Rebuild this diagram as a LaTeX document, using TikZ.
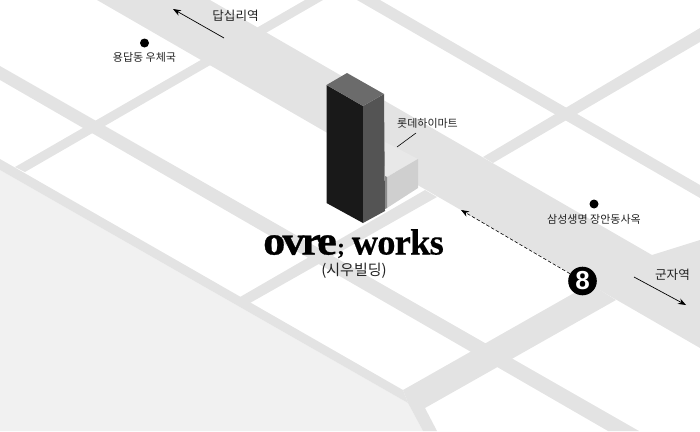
\documentclass[tikz,border=0pt]{standalone}
\usepackage{xcolor}
\usepackage{fontspec}
\setmainfont{Liberation Sans}
\newfontfamily\krfont{Noto Sans CJK KR}
\newfontfamily\logofont[LetterSpace=-7.5, FakeStretch=1.08, FakeBold=0.8]{Liberation Serif Bold}
\newfontfamily\logowide[LetterSpace=-2.2, FakeBold=0.3]{Liberation Serif Bold}
\usetikzlibrary{arrows.meta, positioning}
\definecolor{roadgrey}{HTML}{E3E3E3}
\definecolor{parkgrey}{HTML}{F1F1F1}
\definecolor{inkgrey}{HTML}{222222}

\begin{document}
\begin{tikzpicture}[
    x=1pt, y=-1pt,
    road/.style={fill=roadgrey},
    place/.style={font=\krfont\fontsize{11}{13}\selectfont, text=inkgrey, inner sep=0pt},
    station/.style={font=\krfont\fontsize{12.6}{15}\selectfont, text=inkgrey, inner sep=0pt},
    pin/.style={circle, fill=black, minimum size=9pt, inner sep=0pt},
    pointer/.style={-{Stealth[length=8pt, width=6pt]}, black, line width=0.7pt}
]
\useasboundingbox (0,0) rectangle (700,431);

% Park
\fill[parkgrey] (0,170) -- (408,403) -- (423,431) -- (0,431) -- cycle;

% Main road
\fill[road] (97,0) -- (700,348) -- (700,240) -- (652,255) -- (210,0) -- cycle;

% Thin roads
\fill[road] (0,159) -- (403,390) -- (408,403) -- (0,170) -- cycle;
\fill[road] (0,66) -- (639,431) -- (608,431) -- (0,80) -- cycle;
\fill[road] (15,167) -- (305,0) -- (323,0) -- (25,172) -- cycle;
\fill[road] (357,0) -- (380,0) -- (700,185) -- (700,198) -- cycle;
\fill[road] (483,157) -- (700,28) -- (700,42) -- (493,163) -- cycle;
\fill[road] (240,297) -- (425,190) -- (437,197) -- (250,303) -- cycle;

% Wide road to the station
\fill[road] (403,390) -- (590,284) -- (616,300) -- (425,408) -- (437,431) -- (423,431) -- (408,403) -- cycle;

% Tower
\fill[black!90] (326.5,85) -- (363,106) -- (363,223) -- (326.5,203) -- cycle;
\fill[black!67] (363,106) -- (384,94) -- (385,211) -- (363,223) -- cycle;
\fill[black!58] (326.5,85) -- (347,73) -- (384,94) -- (363,106) -- cycle;

% Mart
\fill[black!9] (385,142) -- (418,159) -- (387,177) -- (385,176) -- cycle;
\fill[black!19] (387,177) -- (418,159) -- (418,188) -- (387,208) -- cycle;
\fill[black!45] (385,176) -- (387,177) -- (387,208) -- (385,209) -- cycle;

% Places
\node[pin] (postdot) at (144.5,43) {};
\node[place, below=4.5pt of postdot] (post) {용답동 우체국};
\node[pin] (samsungdot) at (594,204) {};
\node[place, below=5pt of samsungdot] (samsung) {삼성생명 장안동사옥};
\node[place] (mart) at (427.5,123) {롯데하이마트};
\coordinate (martfoot) at (397,147);
\coordinate (martlead) at (416,133);
\draw[black, line width=0.6pt] (martfoot) -- (martlead);

% Stations
\node[station] (dapsimni) at (235.5,16) {답십리역};
\node[station] (gunja) at (672.5,275) {군자역};
\coordinate (westfrom) at (224,38);
\coordinate (westto) at (173,9);
\coordinate (eastfrom) at (634,277);
\coordinate (eastto) at (686,305);
\draw[pointer] (westfrom) -- (westto);
\draw[pointer] (eastfrom) -- (eastto);

% Exit 8
\node[circle, fill=black, minimum size=28.6pt, inner sep=0pt, text=white, font=\fontspec{Liberation Sans Bold}\fontsize{26}{26}\selectfont] (exiteight) at (582.5,281) {8};
\coordinate (entrance) at (461,210);
\draw[pointer, dashed, line width=0.6pt, dash pattern=on 3.5pt off 2pt] (exiteight) -- (entrance);

% Logo
\node[inner sep=0pt, anchor=base west] (logo) at (263,254.5) {\logofont\fontsize{41}{41}\selectfont ovre};
\node[inner sep=0pt, anchor=base west] (semi) at (337,254.5) {\logowide\fontsize{23}{23}\selectfont ;};
\node[inner sep=0pt, anchor=base east] (works) at (444,254.5) {\logowide\fontsize{36.5}{36}\selectfont works};
\node[font=\krfont\fontsize{15}{18}\selectfont, text=inkgrey, inner sep=0pt] (building) at (354,271) {(시우빌딩)};

\end{tikzpicture}
\end{document}
